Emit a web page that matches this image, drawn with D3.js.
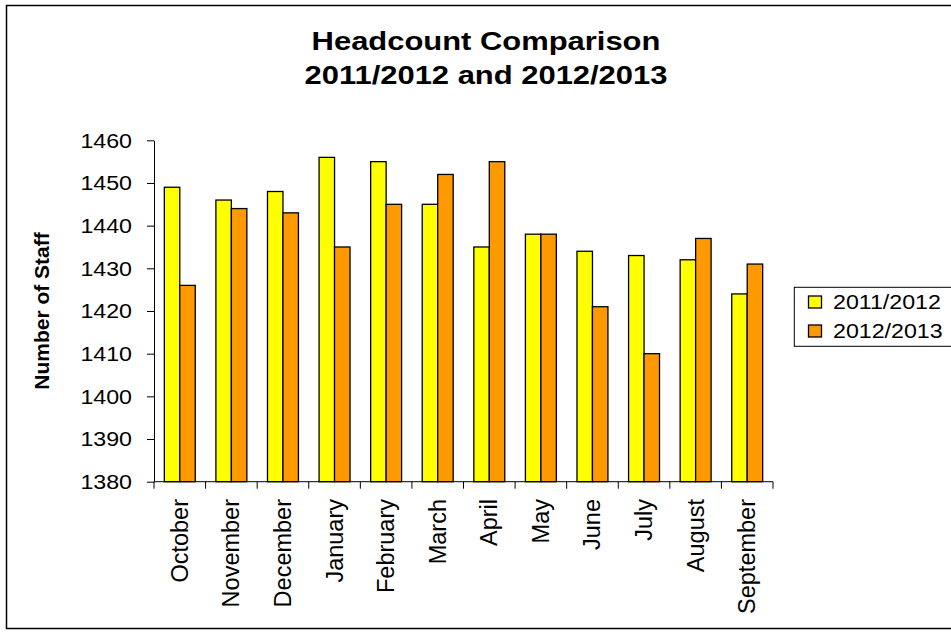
<!DOCTYPE html>
<html>
<head>
<meta charset="utf-8">
<script src="https://cdn.jsdelivr.net/npm/d3@7"></script>
<style>
  body { margin: 0; background: #fff; }
  text { font-family: "Liberation Sans", Arial, sans-serif; fill: #000; }
</style>
</head>
<body>
<svg id="chart"></svg>
<script>
// data
const months = ["October", "November", "December", "January", "February", "March",
                "April", "May", "June", "July", "August", "September"];
const seriesNames = ["2011/2012", "2012/2013"];
const values2011 = [1449, 1446, 1448, 1456, 1455, 1445, 1435, 1438, 1434, 1433, 1432, 1424];
const values2012 = [1426, 1444, 1443, 1435, 1445, 1452, 1455, 1438, 1421, 1410, 1437, 1431];
const yTicks = [1380, 1390, 1400, 1410, 1420, 1430, 1440, 1450, 1460];
const colors = ["#ffff00", "#ff9900"];

const width = 951, height = 633;
const plot = { left: 154, right: 773, top: 140.3, bottom: 481.7 };
const sx = 1.19; // horizontal text stretch of the original

const svg = d3.select("#chart").attr("width", width).attr("height", height);

// outer frame
svg.append("rect")
    .attr("x", 6.5).attr("y", 5.5)
    .attr("width", 980).attr("height", 623)
    .attr("fill", "none").attr("stroke", "#000").attr("stroke-width", 1.5);

const x = d3.scaleBand().domain(months).range([plot.left, plot.right])
    .paddingInner(0.4).paddingOuter(0.2);
const xs = d3.scaleBand().domain(seriesNames).range([0, x.bandwidth()]);
const y = d3.scaleLinear().domain([1380, 1460]).range([plot.bottom, plot.top]);

const data = months.map((m, i) => ({ month: m, vals: [values2011[i], values2012[i]] }));

// bars
const groups = svg.append("g").selectAll("g")
    .data(data).enter().append("g")
    .attr("transform", d => `translate(${x(d.month)},0)`);

groups.selectAll("rect")
    .data(d => d.vals.map((v, j) => ({ name: seriesNames[j], value: v, c: colors[j] })))
    .enter().append("rect")
    .attr("x", d => xs(d.name))
    .attr("y", d => y(d.value))
    .attr("width", xs.bandwidth())
    .attr("height", d => y(1380) - y(d.value))
    .attr("fill", d => d.c)
    .attr("stroke", "#000")
    .attr("stroke-width", 1.3);

// y axis
const yAxis = svg.append("g")
    .attr("transform", `translate(${plot.left},0)`)
    .call(d3.axisLeft(y).tickValues(yTicks).tickSize(7).tickSizeOuter(0).tickFormat(d3.format("d")));
yAxis.select(".domain").attr("stroke", "#000");
yAxis.selectAll(".tick line").attr("stroke", "#000");
yAxis.selectAll(".tick text")
    .attr("x", 0).attr("dy", "0.35em")
    .attr("transform", `translate(-22,0) scale(${sx},1)`)
    .attr("font-size", 19.5)
    .style("font-family", "Liberation Sans, Arial, sans-serif")
    .attr("fill", "#000");

// x axis with ticks between categories
const step = x.step();
const bounds = months.map(m => x(m) - step * 0.2).concat([plot.right]);
const xAxis = svg.append("g");
xAxis.append("line")
    .attr("x1", plot.left).attr("x2", plot.right)
    .attr("y1", plot.bottom).attr("y2", plot.bottom)
    .attr("stroke", "#000");
xAxis.selectAll("line.tick").data(bounds).enter().append("line")
    .attr("class", "tick")
    .attr("x1", d => d).attr("x2", d => d)
    .attr("y1", plot.bottom).attr("y2", plot.bottom + 7)
    .attr("stroke", "#000");
xAxis.selectAll("text").data(months).enter().append("text")
    .attr("transform", d => `translate(${x(d) + x.bandwidth() / 2},499) rotate(-90)`)
    .attr("text-anchor", "end")
    .attr("dominant-baseline", "central")
    .attr("font-size", 23.5)
    .text(d => d);

// title
const title = svg.append("g").attr("font-weight", "bold").attr("font-size", 26);
[["Headcount Comparison", 50], ["2011/2012 and 2012/2013", 84]].forEach(([t, yy]) => {
    title.append("text")
        .attr("transform", `translate(486,${yy}) scale(${sx},1)`)
        .attr("text-anchor", "middle")
        .text(t);
});

// y axis title
svg.append("text")
    .attr("transform", `translate(41,311) rotate(-90)`)
    .attr("text-anchor", "middle")
    .attr("dominant-baseline", "central")
    .attr("font-weight", "bold")
    .attr("font-size", 21)
    .text("Number of Staff");

// legend
const legend = svg.append("g");
legend.append("rect")
    .attr("x", 794.3).attr("y", 287.3)
    .attr("width", 200).attr("height", 59)
    .attr("fill", "#fff").attr("stroke", "#000");
seriesNames.forEach((n, i) => {
    const cy = 302 + i * 29;
    legend.append("rect")
        .attr("x", 808.5).attr("y", cy - 6)
        .attr("width", 13).attr("height", 12)
        .attr("fill", colors[i]).attr("stroke", "#000").attr("stroke-width", 1.3);
    legend.append("text")
        .attr("transform", `translate(833,${cy}) scale(${sx},1)`)
        .attr("dy", "0.35em")
        .attr("font-size", 19.5)
        .text(n);
});
</script>
</body>
</html>
